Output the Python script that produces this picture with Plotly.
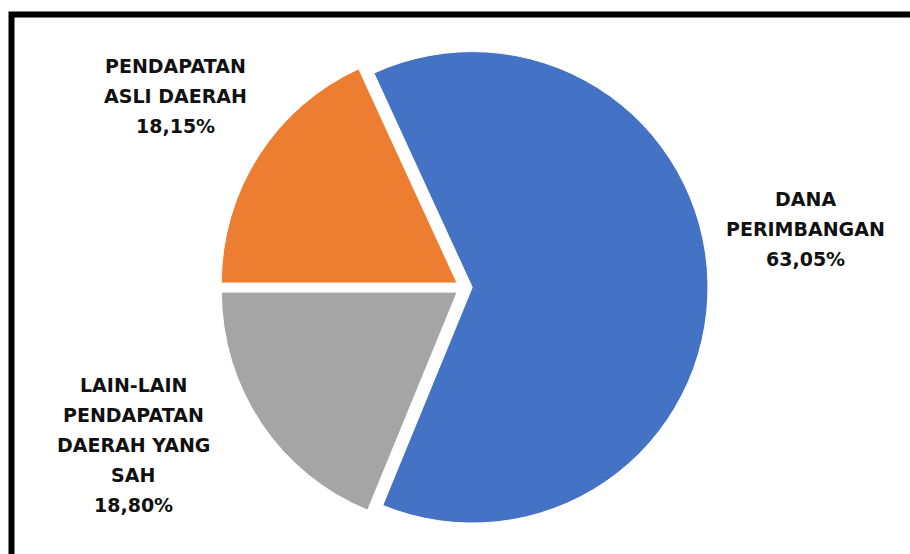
import plotly.graph_objects as go

# Data
categories = ["PENDAPATAN ASLI DAERAH", "DANA PERIMBANGAN", "LAIN-LAIN PENDAPATAN DAERAH YANG SAH"]
values = [18.15, 63.05, 18.80]
value_labels = ["18,15%", "63,05%", "18,80%"]
colors = ["#ED7D31", "#4472C4", "#A5A5A5"]

label_lines = [
    ["PENDAPATAN", "ASLI DAERAH"],
    ["DANA", "PERIMBANGAN"],
    ["LAIN-LAIN", "PENDAPATAN", "DAERAH YANG", "SAH"],
]

W, H = 910, 554
pull = 0.035
cx, cy = 464, 287.5
r_dom = 244

fig = go.Figure(go.Pie(
    labels=categories,
    values=values,
    sort=False,
    direction="clockwise",
    rotation=270,
    pull=[pull] * 3,
    marker=dict(colors=colors, line=dict(color="white", width=1)),
    textinfo="none",
    hoverinfo="skip",
    showlegend=False,
    domain=dict(x=[(cx - r_dom) / W, (cx + r_dom) / W],
                y=[1 - (cy + r_dom) / H, 1 - (cy - r_dom) / H]),
))

# label anchor positions (pixel centers of first line) and line spacing
label_pos = [(175, 65.5), (805, 199), (133, 385)]
spacing = 30

annotations = []
for lines, vl, (x, y) in zip(label_lines, value_labels, label_pos):
    for i, t in enumerate(lines + [vl]):
        annotations.append(dict(
            x=x / W, y=1 - (y + i * spacing) / H, xref="paper", yref="paper",
            text=t, showarrow=False, xanchor="center", yanchor="middle",
            font=dict(family="DejaVu Sans", size=19, color="#111111", weight="bold"),
        ))

fig.update_layout(
    width=W, height=H,
    margin=dict(l=0, r=0, t=0, b=0),
    paper_bgcolor="white",
    plot_bgcolor="white",
    annotations=annotations,
    shapes=[dict(type="rect", xref="paper", yref="paper",
                 x0=11.5 / W, x1=1.2, y0=1 - 14.5 / H, y1=-0.2,
                 line=dict(color="black", width=6))],
)

fig.write_html("out.html")
